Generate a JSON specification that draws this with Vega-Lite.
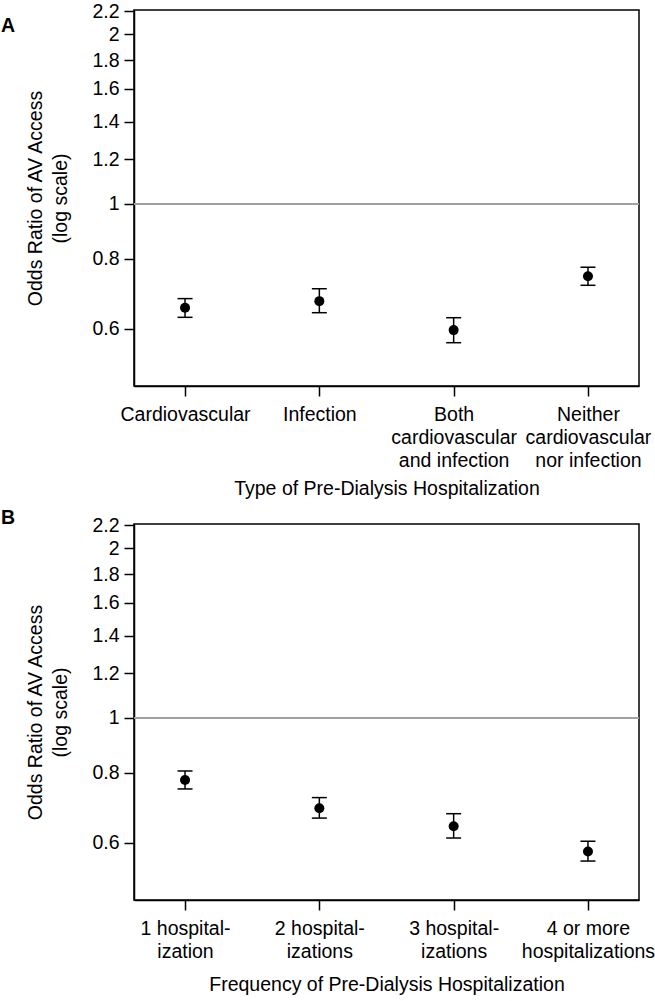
{
  "$schema": "https://vega.github.io/schema/vega-lite/v6.json",
  "padding": {"left": 0, "top": 0, "right": 0, "bottom": 0},
  "background": "white",
  "datasets": {
    "typeData": [
      {"category": "Cardiovascular", "or": 0.654, "lower": 0.629, "upper": 0.679},
      {"category": "Infection", "or": 0.672, "lower": 0.641, "upper": 0.707},
      {"category": "Both cardiovascular and infection", "or": 0.597, "lower": 0.567, "upper": 0.628},
      {"category": "Neither cardiovascular nor infection", "or": 0.744, "lower": 0.717, "upper": 0.772}
    ],
    "freqData": [
      {"category": "1 hospitalization", "or": 0.776, "lower": 0.748, "upper": 0.805},
      {"category": "2 hospitalizations", "or": 0.691, "lower": 0.664, "upper": 0.722},
      {"category": "3 hospitalizations", "or": 0.642, "lower": 0.612, "upper": 0.676},
      {"category": "4 or more hospitalizations", "or": 0.579, "lower": 0.557, "upper": 0.604}
    ]
  },
  "config": {
    "font": "Liberation Sans",
    "view": {"stroke": "black", "strokeWidth": 1.5},
    "axis": {
      "domainColor": "black", "domainWidth": 1.5,
      "tickColor": "black", "tickWidth": 1.5, "tickSize": 10,
      "labelColor": "black", "labelFontSize": 19.5, "labelFont": "Liberation Sans",
      "titleFontSize": 19.5, "titleFontWeight": "normal", "titleColor": "black", "titleFont": "Liberation Sans",
      "grid": false
    },
    "title": {"fontSize": 19.5, "fontWeight": "bold", "anchor": "start", "frame": "bounds", "color": "black", "font": "Liberation Sans"}
  },
  "spacing": 7,
  "vconcat": [
    {
      "width": 505,
      "height": 376,
      "title": {"text": "A", "dx": -25, "dy": 39},
      "data": {"name": "typeData"},
      "layer": [
        {
          "mark": {"type": "rule", "color": "#a0a0a0", "strokeWidth": 1.5},
          "encoding": {"y": {"datum": 1, "type": "quantitative"}}
        },
        {
          "mark": {"type": "rule", "color": "black", "strokeWidth": 1.5},
          "encoding": {
            "x": {"field": "category", "type": "nominal", "sort": null},
            "y": {"field": "lower", "type": "quantitative"},
            "y2": {"field": "upper"}
          }
        },
        {
          "mark": {"type": "tick", "color": "black", "size": 15, "thickness": 1.5, "opacity": 1},
          "encoding": {
            "x": {"field": "category", "type": "nominal", "sort": null},
            "y": {"field": "lower", "type": "quantitative"}
          }
        },
        {
          "mark": {"type": "tick", "color": "black", "size": 15, "thickness": 1.5, "opacity": 1},
          "encoding": {
            "x": {"field": "category", "type": "nominal", "sort": null},
            "y": {"field": "upper", "type": "quantitative"}
          }
        },
        {
          "mark": {"type": "point", "filled": true, "color": "black", "size": 100, "opacity": 1},
          "encoding": {
            "x": {
              "field": "category", "type": "nominal", "sort": null,
              "scale": {"type": "point", "padding": 0.38},
              "axis": {
                "title": "Type of Pre-Dialysis Hospitalization",
                "labelAngle": 0,
                "labelAlign": "center",
                "labelLineHeight": 23,
                "labelPadding": 18,
                "titlePadding": 10,
                "labelExpr": "datum.label == 'Both cardiovascular and infection' ? ['Both', 'cardiovascular', 'and infection'] : datum.label == 'Neither cardiovascular nor infection' ? ['Neither', 'cardiovascular', 'nor infection'] : datum.label"
              }
            },
            "y": {
              "field": "or", "type": "quantitative",
              "scale": {"type": "log", "domain": [0.475, 2.21], "nice": false},
              "axis": {
                "title": ["Odds Ratio of AV Access", "(log scale)"],
                "values": [0.6, 0.8, 1, 1.2, 1.4, 1.6, 1.8, 2, 2.2],
                "format": "~g",
                "labelPadding": 5,
                "titlePadding": 21,
                "titleLineHeight": 25
              }
            }
          }
        }
      ]
    },
    {
      "width": 505,
      "height": 376,
      "title": {"text": "B", "dx": -25, "dy": 17},
      "data": {"name": "freqData"},
      "layer": [
        {
          "mark": {"type": "rule", "color": "#a0a0a0", "strokeWidth": 1.5},
          "encoding": {"y": {"datum": 1, "type": "quantitative"}}
        },
        {
          "mark": {"type": "rule", "color": "black", "strokeWidth": 1.5},
          "encoding": {
            "x": {"field": "category", "type": "nominal", "sort": null},
            "y": {"field": "lower", "type": "quantitative"},
            "y2": {"field": "upper"}
          }
        },
        {
          "mark": {"type": "tick", "color": "black", "size": 15, "thickness": 1.5, "opacity": 1},
          "encoding": {
            "x": {"field": "category", "type": "nominal", "sort": null},
            "y": {"field": "lower", "type": "quantitative"}
          }
        },
        {
          "mark": {"type": "tick", "color": "black", "size": 15, "thickness": 1.5, "opacity": 1},
          "encoding": {
            "x": {"field": "category", "type": "nominal", "sort": null},
            "y": {"field": "upper", "type": "quantitative"}
          }
        },
        {
          "mark": {"type": "point", "filled": true, "color": "black", "size": 100, "opacity": 1},
          "encoding": {
            "x": {
              "field": "category", "type": "nominal", "sort": null,
              "scale": {"type": "point", "padding": 0.38},
              "axis": {
                "title": "Frequency of Pre-Dialysis Hospitalization",
                "labelAngle": 0,
                "labelAlign": "center",
                "labelLineHeight": 23,
                "labelPadding": 18,
                "titlePadding": 15,
                "labelExpr": "datum.label == '1 hospitalization' ? ['1 hospital-', 'ization'] : datum.label == '2 hospitalizations' ? ['2 hospital-', 'izations'] : datum.label == '3 hospitalizations' ? ['3 hospital-', 'izations'] : ['4 or more', 'hospitalizations']"
              }
            },
            "y": {
              "field": "or", "type": "quantitative",
              "scale": {"type": "log", "domain": [0.475, 2.21], "nice": false},
              "axis": {
                "title": ["Odds Ratio of AV Access", "(log scale)"],
                "values": [0.6, 0.8, 1, 1.2, 1.4, 1.6, 1.8, 2, 2.2],
                "format": "~g",
                "labelPadding": 5,
                "titlePadding": 21,
                "titleLineHeight": 25
              }
            }
          }
        }
      ]
    }
  ]
}
